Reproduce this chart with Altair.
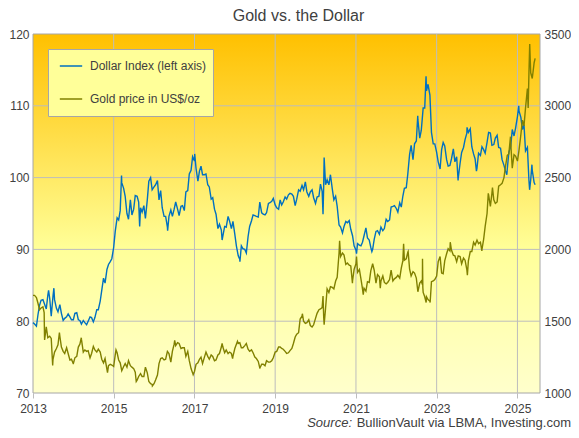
import altair as alt
import pandas as pd

# ---------------- text ----------------
title_text = "Gold vs. the Dollar"
series_names = ["Dollar Index (left axis)", "Gold price in US$/oz"]
series_colors = ["#0070C0", "#808000"]
source_italic = "Source:"
source_rest = "BullionVault via LBMA, Investing.com"

# ---------------- axes ----------------
x_domain = ["2013-01-01", "2025-07-24"]
tick_years = [2013, 2015, 2017, 2019, 2021, 2023, 2025]
left_domain = [70, 120]
left_ticks = [70, 80, 90, 100, 110, 120]
right_domain = [1000, 3500]
right_ticks = [1000, 1500, 2000, 2500, 3000, 3500]
grid_levels = [80, 90, 100, 110]

# ---------------- data: values on the 1st and 15th of each month ----------------
dxy_2013 = [79.8, 79.6, 79.3, 80.9, 82.2, 82.9, 83.0, 82.4, 81.7, 83.6, 83.2, 80.7,
            83.5, 83.0, 81.8, 81.3, 82.3, 81.1, 80.1, 80.4, 80.6, 81.0, 80.6, 80.2]
dxy_2014 = [80.2, 81.1, 81.2, 80.2, 80.1, 79.6, 80.1, 79.8, 79.5, 80.0, 80.6, 80.5,
            79.9, 80.5, 81.6, 81.6, 82.8, 84.3, 86.0, 85.3, 87.2, 87.9, 88.3, 88.7]
dxy_2015 = [90.3, 92.5, 94.4, 94.1, 95.4, 99.3, 98.5, 97.4, 95.0, 94.2, 96.9, 94.8,
            95.6, 97.5, 97.4, 96.6, 95.8, 95.2, 96.1, 94.3, 96.9, 99.5, 100.0, 98.3]
dxy_2016 = [98.7, 99.0, 99.6, 96.9, 98.2, 95.8, 94.6, 94.6, 93.1, 94.6, 95.5, 94.6,
            95.6, 96.6, 95.6, 94.7, 96.0, 96.1, 95.4, 98.0, 98.2, 100.5, 101.0, 102.9]
dxy_2017 = [102.3, 101.3, 99.5, 100.9, 101.6, 100.4, 100.4, 100.5, 99.0, 98.7, 97.0, 97.2,
            95.6, 94.9, 92.9, 93.5, 92.7, 91.9, 93.2, 93.1, 94.6, 93.9, 92.9, 93.9]
dxy_2018 = [92.1, 90.5, 89.1, 88.6, 90.5, 90.1, 90.0, 89.5, 91.8, 93.2, 94.0, 94.8,
            94.7, 94.6, 94.5, 96.6, 95.1, 94.9, 94.8, 95.1, 96.4, 96.5, 96.7, 97.1]
dxy_2019 = [96.2, 95.8, 95.6, 96.9, 96.2, 96.6, 97.3, 97.0, 97.6, 97.8, 97.7, 97.4,
            96.1, 97.0, 98.3, 98.1, 98.9, 98.3, 99.4, 98.0, 97.4, 98.0, 98.3, 97.2]
dxy_2020 = [96.4, 97.3, 97.4, 99.1, 98.1, 98.8, 99.0, 99.7, 99.0, 100.4, 98.4, 96.9,
            97.4, 96.0, 93.4, 93.1, 92.3, 93.2, 93.9, 93.7, 94.0, 92.8, 91.9, 90.5]
dxy_2021 = [89.9, 90.8, 90.6, 90.5, 91.0, 91.9, 93.0, 91.6, 91.3, 90.3, 90.0, 91.4,
            92.5, 92.6, 92.1, 93.1, 92.6, 92.9, 94.2, 93.9, 94.1, 95.9, 96.0, 96.1]
dxy_2022 = [95.7, 95.2, 96.5, 95.9, 97.4, 98.5, 98.6, 100.5, 103.2, 104.5, 102.5, 104.7,
            105.1, 108.1, 105.5, 106.6, 109.7, 109.7, 112.1, 113.0, 111.5, 106.3, 104.7, 104.7]
dxy_2023 = [103.5, 102.2, 101.2, 103.9, 104.9, 104.4, 102.5, 101.6, 101.7, 102.6, 104.0, 102.2,
            102.9, 99.9, 102.0, 103.5, 104.2, 105.3, 106.2, 106.3, 106.8, 104.3, 103.3, 102.6]
dxy_2024 = [101.3, 103.4, 103.1, 104.3, 103.9, 103.4, 104.9, 106.3, 106.2, 104.5, 104.6, 105.5,
            105.9, 104.2, 104.1, 102.5, 101.7, 100.9, 101.2, 103.5, 104.3, 106.7, 105.8, 106.9]
dxy_2025 = [108.5, 109.3, 108.4, 106.7, 107.4, 103.7, 104.2, 99.6, 99.7, 101.0, 99.3]

dxy_extra_dates = ["2013-05-22", "2013-07-09", "2015-03-13", "2015-08-24", "2016-05-03",
                   "2017-01-03", "2017-09-08", "2018-02-16", "2020-03-09", "2020-03-19",
                   "2021-01-06", "2021-05-25", "2022-07-14", "2022-09-27", "2023-07-14",
                   "2023-10-03", "2023-12-27", "2024-09-27", "2025-01-13", "2025-04-21",
                   "2025-05-12", "2025-06-10"]
dxy_extra_values = [84.3, 84.6, 100.3, 93.2, 92.6, 103.3, 91.3, 88.3, 94.9, 102.8,
                    89.4, 89.7, 108.6, 114.1, 99.6, 107.0, 100.9, 100.4, 110.0, 98.3,
                    101.8, 99.0]

gold_2013 = [1680, 1680, 1665, 1625, 1580, 1592, 1600, 1395, 1460, 1385, 1395, 1380,
             1235, 1285, 1310, 1335, 1395, 1320, 1290, 1275, 1315, 1275, 1230, 1235]
gold_2014 = [1205, 1245, 1255, 1320, 1340, 1375, 1285, 1300, 1290, 1295, 1245, 1275,
             1325, 1300, 1285, 1305, 1285, 1235, 1210, 1240, 1165, 1190, 1200, 1195]
gold_2015 = [1185, 1265, 1280, 1230, 1210, 1155, 1185, 1205, 1180, 1225, 1190, 1180,
             1170, 1145, 1090, 1115, 1135, 1115, 1115, 1180, 1140, 1080, 1065, 1060]
gold_2016 = [1065, 1090, 1125, 1205, 1240, 1245, 1230, 1235, 1290, 1275, 1215, 1290,
             1340, 1330, 1350, 1345, 1310, 1315, 1315, 1255, 1290, 1225, 1170, 1140]
gold_2017 = [1150, 1200, 1210, 1235, 1250, 1205, 1250, 1285, 1255, 1235, 1265, 1255,
             1225, 1230, 1265, 1275, 1320, 1320, 1280, 1300, 1275, 1285, 1275, 1255]
gold_2018 = [1310, 1340, 1345, 1350, 1315, 1315, 1330, 1345, 1305, 1290, 1300, 1280,
             1250, 1240, 1220, 1175, 1200, 1200, 1190, 1225, 1215, 1215, 1225, 1245]
gold_2019 = [1285, 1290, 1320, 1320, 1310, 1305, 1290, 1275, 1280, 1295, 1310, 1345,
             1390, 1410, 1420, 1515, 1535, 1500, 1485, 1490, 1510, 1470, 1460, 1475]
gold_2020 = [1520, 1555, 1580, 1585, 1595, 1530, 1590, 1725, 1700, 1740, 1735, 1725,
             1780, 1805, 1975, 1950, 1975, 1960, 1895, 1905, 1890, 1885, 1780, 1860]
gold_2021 = [1900, 1840, 1860, 1795, 1725, 1730, 1710, 1775, 1770, 1850, 1900, 1855,
             1765, 1825, 1810, 1780, 1815, 1770, 1760, 1770, 1790, 1855, 1780, 1795]
gold_2022 = [1805, 1820, 1800, 1870, 1920, 1925, 1935, 1980, 1865, 1815, 1845, 1835,
             1800, 1705, 1765, 1780, 1700, 1670, 1670, 1650, 1640, 1775, 1780, 1790]
gold_2023 = [1815, 1915, 1950, 1835, 1830, 1920, 1970, 2005, 1990, 1995, 1960, 1955,
             1915, 1955, 1950, 1900, 1940, 1925, 1860, 1920, 1985, 1985, 2050, 2030]
gold_2024 = [2065, 2040, 2050, 2000, 2070, 2160, 2250, 2380, 2300, 2390, 2345, 2320,
             2330, 2440, 2450, 2460, 2500, 2580, 2655, 2665, 2745, 2565, 2660, 2650]
gold_2025 = [2615, 2690, 2800, 2900, 2860, 2985, 3120, 3230, 3230, 3190, 3300]

gold_extra_dates = ["2013-04-12", "2013-04-16", "2013-06-28", "2013-08-28", "2013-12-31",
                    "2014-03-14", "2014-11-06", "2015-01-22", "2015-07-24", "2015-12-17",
                    "2016-07-06", "2016-12-20", "2017-09-08", "2017-12-12", "2018-01-25",
                    "2018-08-16", "2019-09-04", "2020-03-09", "2020-03-19", "2020-08-06",
                    "2020-11-30", "2021-01-06", "2021-03-08", "2021-08-09", "2022-03-08",
                    "2022-04-18", "2022-08-25", "2022-08-26", "2022-08-29", "2022-09-28",
                    "2022-11-03", "2023-05-04", "2023-10-06", "2024-02-14", "2024-04-12",
                    "2024-05-20", "2024-10-30", "2025-04-08", "2025-04-22", "2025-06-10"]
gold_extra_values = [1560, 1369, 1192, 1420, 1205,
                     1385, 1142, 1300, 1080, 1049,
                     1366, 1128, 1346, 1240, 1360,
                     1174, 1552, 1675, 1475, 2060,
                     1765, 1950, 1684, 1730, 2039,
                     1985, 1755, 1935, 1735, 1630,
                     1630, 2050, 1820, 1990, 2390,
                     2430, 2785, 2985, 3430, 3330]

# ---------------- build tables ----------------
grid_dates = [f"{y}-{m:02d}-{d:02d}" for y in range(2013, 2026)
              for m in range(1, 13) for d in (1, 15)]


def series_frame(year_lists, extra_dates, extra_values, name):
    vals = [v for lst in year_lists for v in lst]
    dates = grid_dates[:len(vals)]
    df = pd.DataFrame({"date": dates + extra_dates, "value": vals + extra_values})
    df["date"] = pd.to_datetime(df["date"])
    df = df.sort_values("date").reset_index(drop=True)
    df["series"] = name
    return df


dxy_df = series_frame([dxy_2013, dxy_2014, dxy_2015, dxy_2016, dxy_2017, dxy_2018, dxy_2019,
                       dxy_2020, dxy_2021, dxy_2022, dxy_2023, dxy_2024, dxy_2025],
                      dxy_extra_dates, dxy_extra_values, series_names[0])
gold_df = series_frame([gold_2013, gold_2014, gold_2015, gold_2016, gold_2017, gold_2018,
                        gold_2019, gold_2020, gold_2021, gold_2022, gold_2023, gold_2024,
                        gold_2025],
                       gold_extra_dates, gold_extra_values, series_names[1])

bg_df = pd.DataFrame({"x0": pd.to_datetime([x_domain[0]]), "x1": pd.to_datetime([x_domain[1]]),
                      "y0": [left_domain[0]], "y1": [left_domain[1]]})
vgrid_df = pd.DataFrame({"d": pd.to_datetime([f"{y}-01-01" for y in tick_years[1:]])})
hgrid_df = pd.DataFrame({"v": grid_levels})

# ---------------- scales / axes ----------------
FONT = "Liberation Sans, Arial, sans-serif"
TXT = "#404040"
GRID = "#BDBDBD"

x_scale = alt.Scale(domain=[alt.DateTime(year=2013, month=1, date=1),
                            alt.DateTime(year=2025, month=7, date=24)], nice=False)
x_axis = alt.Axis(values=[alt.DateTime(year=y, month=1, date=1) for y in tick_years],
                  format="%Y", grid=False, domain=False, ticks=True, tickSize=5,
                  tickColor=GRID, labelPadding=5, labelFlush=False, title=None)
left_scale = alt.Scale(domain=left_domain, nice=False, zero=False)
left_axis = alt.Axis(values=left_ticks, orient="left", grid=False, domain=False,
                     ticks=False, labelPadding=4, format="d", title=None)
right_scale = alt.Scale(domain=right_domain, nice=False, zero=False)
right_axis = alt.Axis(values=right_ticks, orient="right", grid=False, domain=False,
                      ticks=False, labelPadding=4, format="d", title=None)
color_scale = alt.Scale(domain=series_names, range=series_colors)
legend = alt.Legend(orient="none", legendX=15, legendY=15, title=None,
                    fillColor="#FFFF99", strokeColor="#A6A6A6", padding=6,
                    symbolType="stroke", symbolSize=500, symbolStrokeWidth=1.5,
                    symbolOffset=5, clipHeight=22,
                    labelFontSize=12, labelFont=FONT, labelColor=TXT,
                    rowPadding=11, labelOffset=7, cornerRadius=0)

gradient = alt.Gradient(gradient="linear",
                        stops=[alt.GradientStop(color="#FFC000", offset=0),
                               alt.GradientStop(color="#FFFF99", offset=0.6),
                               alt.GradientStop(color="#FFFFCC", offset=1)],
                        x1=0, x2=0, y1=0, y2=1)

bg = alt.Chart(bg_df).mark_rect(fill=gradient, stroke="#A6A6A6", strokeWidth=1).encode(
    x=alt.X("x0:T", scale=x_scale, axis=x_axis), x2="x1:T",
    y=alt.Y("y0:Q", scale=left_scale, axis=left_axis), y2="y1:Q")

vgrid = alt.Chart(vgrid_df).mark_rule(color=GRID, strokeWidth=1).encode(
    x=alt.X("d:T", scale=x_scale, axis=x_axis))

hgrid = alt.Chart(hgrid_df).mark_rule(color=GRID, strokeWidth=1).encode(
    y=alt.Y("v:Q", scale=left_scale, axis=left_axis))

dxy_line = alt.Chart(dxy_df).mark_line(strokeWidth=1.4).encode(
    x=alt.X("date:T", scale=x_scale, axis=x_axis),
    y=alt.Y("value:Q", scale=left_scale, axis=left_axis),
    color=alt.Color("series:N", scale=color_scale, legend=legend))

src1 = alt.Chart(pd.DataFrame({"t": [source_italic]})).mark_text(
    align="right", baseline="alphabetic", fontSize=13, font=FONT, fontStyle="italic",
    color=TXT, dx=-219).encode(text="t:N", x=alt.value(538), y=alt.value(393))
src2 = alt.Chart(pd.DataFrame({"t": [source_rest]})).mark_text(
    align="right", baseline="alphabetic", fontSize=13, font=FONT,
    color=TXT).encode(text="t:N", x=alt.value(538), y=alt.value(393))

left_layer = alt.layer(bg, vgrid, hgrid, dxy_line, src1, src2)

gold_line = alt.Chart(gold_df).mark_line(strokeWidth=1.4).encode(
    x=alt.X("date:T", scale=x_scale, axis=x_axis),
    y=alt.Y("value:Q", scale=right_scale, axis=right_axis),
    color=alt.Color("series:N", scale=color_scale, legend=legend))

chart = alt.layer(left_layer, gold_line).resolve_scale(y="independent").properties(
    width=507, height=359, padding=0,
    title=alt.TitleParams(title_text, fontSize=16, font=FONT, color=TXT,
                          fontWeight="normal", anchor="middle", dx=12, offset=4),
    background="white",
).configure_view(stroke=None).configure_axis(
    labelFont=FONT, labelFontSize=12, labelColor=TXT
)

chart.save("out.html", embed_options={"renderer": "svg", "actions": False})
